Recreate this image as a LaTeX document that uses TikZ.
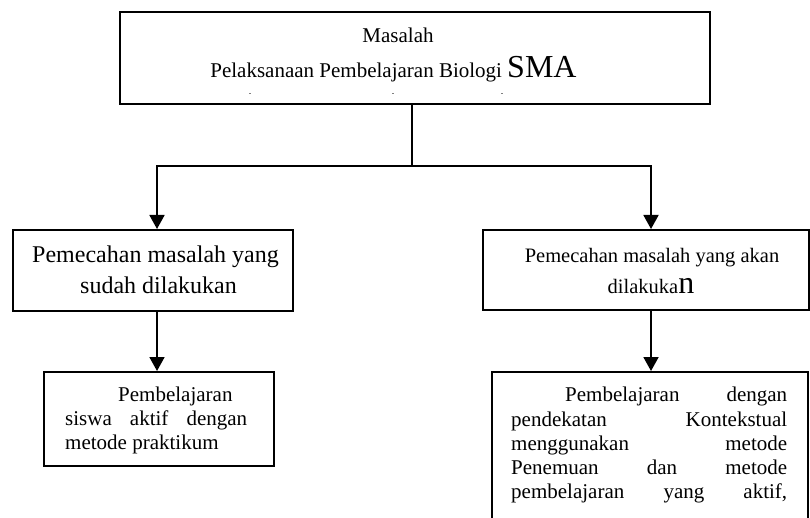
\documentclass[tikz,border=0pt]{standalone}
\usepackage{fontspec}
\setmainfont{Liberation Serif}
\usetikzlibrary{arrows.meta}
\begin{document}
\begin{tikzpicture}[x=1pt,y=-1pt,
  box/.style={draw,line width=1.6pt,inner sep=0pt,anchor=north west},
  arr/.style={line width=1.8pt,-{Triangle[length=14pt,width=15pt]}},
  conn/.style={line width=1.8pt,line cap=rect},
  txt/.style={inner sep=0pt,anchor=base},
  ltxt/.style={inner sep=0pt,anchor=base west},
  big/.style={font=\fontsize{24}{28}\selectfont},
  mid/.style={font=\fontsize{20.5}{24}\selectfont},
  sml/.style={font=\fontsize{21}{24}\selectfont}]
\useasboundingbox (0,0) rectangle (810,518);
\clip (0,0) rectangle (810,518);
% boxes
\node[box,minimum width=590pt,minimum height=92pt] (top) at (119,11) {};
\node[box,minimum width=280pt,minimum height=81pt] (lm) at (12,229) {};
\node[box,minimum width=326pt,minimum height=80pt] (rm) at (482,229) {};
\node[box,minimum width=230pt,minimum height=94pt] (lb) at (43,371) {};
\node[box,minimum width=316pt,minimum height=170pt] (rb) at (491,371) {};
% top text
\node[txt,sml] (t1) at (398,43) {Masalah};
\node[txt,sml] (t2) at (393.5,78) {Pelaksanaan Pembelajaran Biologi {\fontsize{32}{36}\selectfont SMA}};
\fill[gray] (249,93.5) rectangle (251,94.5);
\fill[gray] (392,93.5) rectangle (394,94.5);
\fill[gray] (501,93.5) rectangle (503,94.5);
% mid text
\node[txt,big] (lm1) at (155.5,262) {Pemecahan masalah yang};
\node[txt,big] (lm2) at (158.5,293) {sudah dilakukan};
\node[txt,mid] (rm1) at (652,262) {Pemecahan masalah yang akan};
\node[txt,mid] (rm2) at (651,294) {dilakuka{\fontsize{32}{36}\selectfont n}};
% bottom left text
\node[ltxt,sml] (lb1) at (118,401) {Pembelajaran};
\node[ltxt,sml] (lb2) at (65,425) {\makebox[182pt][s]{siswa\hfill aktif\hfill dengan}};
\node[ltxt,sml] (lb3) at (65,449) {metode praktikum};
% bottom right text
\node[ltxt,sml] (rb1) at (565,401) {\makebox[222pt][s]{Pembelajaran\hfill dengan}};
\node[ltxt,sml] (rb2) at (511,426) {\makebox[276pt][s]{pendekatan\hfill Kontekstual}};
\node[ltxt,sml] (rb3) at (511,450) {\makebox[276pt][s]{menggunakan\hfill metode}};
\node[ltxt,sml] (rb4) at (511,474) {\makebox[276pt][s]{Penemuan\hfill dan\hfill metode}};
\node[ltxt,sml] (rb5) at (511,498) {\makebox[276pt][s]{pembelajaran\hfill yang\hfill aktif,}};
% connectors
\coordinate (j) at (412,166);
\coordinate (jl) at (157,166);
\coordinate (jr) at (651,166);
\draw[conn] (top.south -| j) -- (j);
\draw[conn] (jl) -- (jr);
\draw[arr] (jl) -- (jl |- lm.north);
\draw[arr] (jr) -- (jr |- rm.north);
\draw[arr] (lm.south -| jl) -- (jl |- lb.north);
\draw[arr] (rm.south -| jr) -- (jr |- rb.north);
\end{tikzpicture}
\end{document}
